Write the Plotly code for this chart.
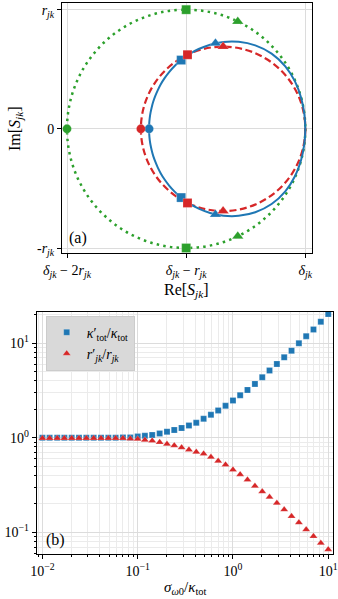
import plotly.graph_objects as go

# ---------------- Panel (a) data (units: r_jk = 1, delta_jk = 0) ----------------
blue_re = [0.0, -0.009, -0.036, -0.086, -0.168, -0.283, -0.42, -0.559, -0.687, -0.799,
           -0.895, -0.975, -1.042, -1.097, -1.143, -1.181, -1.213, -1.238, -1.259, -1.276,
           -1.289, -1.299, -1.306, -1.31, -1.311, -1.31, -1.306, -1.299, -1.289, -1.276,
           -1.259, -1.238, -1.213, -1.181, -1.143, -1.097, -1.042, -0.975, -0.895, -0.799,
           -0.687, -0.559, -0.42, -0.283, -0.168, -0.086, -0.036, -0.009, 0.0]
blue_im = [0.0, 0.131, 0.263, 0.396, 0.524, 0.631, 0.7, 0.73, 0.729, 0.706,
           0.67, 0.626, 0.577, 0.527, 0.476, 0.425, 0.374, 0.325, 0.276, 0.229,
           0.182, 0.136, 0.09, 0.045, 0.0, -0.045, -0.09, -0.136, -0.182, -0.229,
           -0.276, -0.325, -0.374, -0.425, -0.476, -0.527, -0.577, -0.626, -0.67, -0.706,
           -0.729, -0.73, -0.7, -0.631, -0.524, -0.396, -0.263, -0.131, 0.0]

# circles: [center_re, radius]
green_circle = [-1.0, 1.0]
red_circle = [-0.69, 0.69]

# markers: circle, squares, triangles
green_circ_re, green_circ_im = [-2.0], [0.0]
green_sq_re, green_sq_im = [-1.0, -1.0], [1.0, -1.0]
green_tri_re, green_tri_im = [-0.567, -0.567], [0.901, -0.901]

blue_circ_re, blue_circ_im = [-1.311], [0.0]
blue_sq_re, blue_sq_im = [-1.042, -1.042], [0.577, -0.577]
blue_tri_re, blue_tri_im = [-0.754, -0.754], [0.718, -0.718]

red_circ_re, red_circ_im = [-1.38], [0.0]
red_sq_re, red_sq_im = [-0.989, -0.989], [0.622, -0.622]
red_tri_re, red_tri_im = [-0.69, -0.69], [0.69, -0.69]

xa_tickvals = [-2, -1, 0]
xa_ticktext = ["<i>δ</i><sub><i>jk</i></sub> − 2<i>r</i><sub><i>jk</i></sub>",
               "<i>δ</i><sub><i>jk</i></sub> − <i>r</i><sub><i>jk</i></sub>",
               "<i>δ</i><sub><i>jk</i></sub>"]
ya_tickvals = [-1, 0, 1]
ya_ticktext = ["-<i>r</i><sub><i>jk</i></sub>", "0", "<i>r</i><sub><i>jk</i></sub>"]

# ---------------- Panel (b) data ----------------
sigma = [0.01, 0.0119, 0.0143, 0.017, 0.0203, 0.0242, 0.0289, 0.0345, 0.0412, 0.0492,
         0.0587, 0.07, 0.0836, 0.1, 0.119, 0.142, 0.17, 0.203, 0.242, 0.289,
         0.345, 0.412, 0.492, 0.587, 0.7, 0.836, 1.0, 1.19, 1.42, 1.7,
         2.03, 2.42, 2.89, 3.45, 4.12, 4.92, 5.87, 7.0, 8.36, 10.0]
kappa_ratio = [1.0, 1.0, 1.0, 1.0, 1.0, 1.0, 1.0, 1.0, 1.0, 1.0,
               1.0, 1.01, 1.01, 1.03, 1.05, 1.07, 1.11, 1.16, 1.21, 1.27,
               1.35, 1.44, 1.59, 1.75, 1.95, 2.18, 2.48, 2.82, 3.21, 3.72,
               4.37, 5.14, 6.04, 7.1, 8.36, 10.0, 11.9, 14.0, 16.9, 20.4]
r_ratio = [0.99, 0.99, 0.99, 0.99, 0.99, 0.99, 0.99, 0.99, 0.99, 0.99,
           0.99, 0.99, 0.98, 0.97, 0.95, 0.93, 0.9, 0.86, 0.83, 0.79,
           0.75, 0.71, 0.68, 0.625, 0.57, 0.52, 0.46, 0.41, 0.36, 0.31,
           0.27, 0.236, 0.204, 0.174, 0.148, 0.127, 0.107, 0.091, 0.077, 0.066]

xb_tickvals = [0.01, 0.1, 1, 10]
xb_ticktext = ["10<sup>−2</sup>", "10<sup>−1</sup>", "10<sup>0</sup>", "10<sup>1</sup>"]
yb_tickvals = [0.1, 1, 10]
yb_ticktext = ["10<sup>−1</sup>", "10<sup>0</sup>", "10<sup>1</sup>"]

BLUE, RED, GREEN = "#1f77b4", "#d62728", "#2ca02c"
FONT = "Liberation Serif"
W, H = 338, 599

fig = go.Figure()

# blue curve
fig.add_trace(go.Scatter(x=blue_re, y=blue_im, mode="lines", line=dict(color=BLUE, width=2, shape="spline"),
                         showlegend=False, xaxis="x", yaxis="y", hoverinfo="skip"))


def mk(xs, ys, color, symbol, size, xa="x", ya="y", name=None, show=False):
    fig.add_trace(go.Scatter(x=xs, y=ys, mode="markers", name=name, showlegend=show,
                             marker=dict(color=color, symbol=symbol, size=size,
                                         line=dict(color="rgba(255,255,255,0.35)", width=0.6)),
                             xaxis=xa, yaxis=ya))


mk(green_circ_re, green_circ_im, GREEN, "circle", 9)
mk(green_sq_re, green_sq_im, GREEN, "square", 9)
mk(green_tri_re, green_tri_im, GREEN, "triangle-up", 10)
mk(blue_circ_re, blue_circ_im, BLUE, "circle", 9)
mk(blue_sq_re, blue_sq_im, BLUE, "square", 9)
mk(blue_tri_re, blue_tri_im, BLUE, "triangle-up", 10)
mk(red_circ_re, red_circ_im, RED, "circle", 9)
mk(red_sq_re, red_sq_im, RED, "square", 9)
mk(red_tri_re, red_tri_im, RED, "triangle-up", 10)

# panel (b)
mk(sigma, kappa_ratio, BLUE, "square", 6, "x2", "y2", "<i>κ</i>′<sub>tot</sub>/<i>κ</i><sub>tot</sub>", True)
mk(sigma, r_ratio, RED, "triangle-up", 7, "x2", "y2", "<i>r</i>′<sub><i>jk</i></sub>/<i>r</i><sub><i>jk</i></sub>", True)

# circles as shapes
shapes = []
for (c, r), col, dash, lw in [(green_circle, GREEN, "2.5px,4.2px", 2.5), (red_circle, RED, "7px,3.5px", 2.2)]:
    shapes.append(dict(type="circle", xref="x", yref="y", x0=c - r, x1=c + r, y0=-r, y1=r,
                       line=dict(color=col, width=lw, dash=dash), layer="between"))

axis_common = dict(showline=True, linecolor="black", linewidth=1, mirror=True, ticks="outside",
                   ticklen=4, tickcolor="black", gridcolor="#dcdcdc", gridwidth=1, zeroline=False,
                   automargin=False, tickfont=dict(family=FONT, size=14, color="black"))

minor_vals = [m * 10.0 ** e for e in range(-3, 2) for m in range(2, 10)]
minor_cfg = dict(tickmode="array", tickvals=minor_vals, ticks="outside", ticklen=2, tickcolor="black",
                 showgrid=True, gridcolor="#ebebeb", gridwidth=0.8)


def ann(text, x, y, size, angle=0):
    return dict(text=text, x=x / W, y=1 - y / H, xref="paper", yref="paper", showarrow=False,
                xanchor="center", yanchor="middle", textangle=angle, font=dict(family=FONT, size=size))


fig.update_layout(
    width=W, height=H, margin=dict(l=0, r=0, t=0, b=0, autoexpand=False),
    paper_bgcolor="white", plot_bgcolor="white",
    font=dict(family=FONT, color="black"),
    shapes=shapes,
    xaxis=dict(domain=[62 / W, 312 / W], range=[-2.042, 0.056], tickmode="array", tickvals=xa_tickvals,
               ticktext=xa_ticktext, anchor="y", **axis_common),
    yaxis=dict(domain=[1 - 253 / H, 1 - 3 / H], range=[-1.042, 1.056], tickmode="array", tickvals=ya_tickvals,
               ticktext=ya_ticktext, anchor="x", **axis_common),
    xaxis2=dict(domain=[36.7 / W, 333 / W], type="log", range=[-2.06, 1.05], tickmode="array",
                tickvals=xb_tickvals, ticktext=xb_ticktext, anchor="y2", minor=minor_cfg, **axis_common),
    yaxis2=dict(domain=[1 - 554.3 / H, 1 - 311.7 / H], type="log", range=[-1.232, 1.334], tickmode="array",
                tickvals=yb_tickvals, ticktext=yb_ticktext, anchor="x2", minor=minor_cfg, **axis_common),
    legend=dict(x=45.7 / W, y=1 - 315.7 / H, xanchor="left", yanchor="top", bgcolor="#d9d9d9",
                bordercolor="#cccccc", borderwidth=1, tracegroupgap=0,
                font=dict(family=FONT, size=14, color="black")),
    annotations=[
        ann("(a)", 78, 238, 16),
        ann("(b)", 55, 540, 16),
        ann("Re[<i>S</i><sub><i>jk</i></sub>]", 186, 290, 16),
        ann("Im[<i>S</i><sub><i>jk</i></sub>]", 15, 129, 16, -90),
        ann("<i>σ</i><sub><i>ω</i>0</sub>/<i>κ</i><sub>tot</sub>", 185, 588, 15),
    ],
)

fig.write_html("out.html", config={"displayModeBar": False},
               post_script="document.body.style.margin='0px';")
